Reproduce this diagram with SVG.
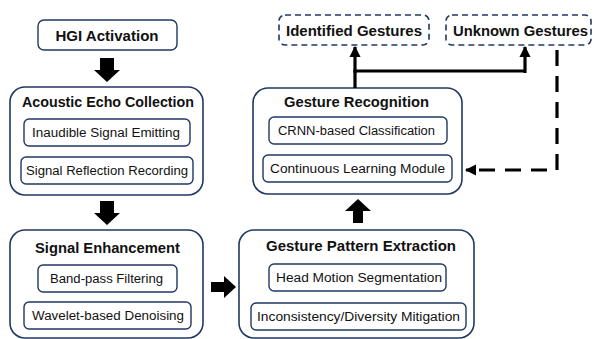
<svg xmlns="http://www.w3.org/2000/svg" width="594" height="339" viewBox="0 0 594 339">
  <style>
    .panel { fill: #ffffff; stroke: #203864; stroke-width: 1.6; }
    .item { fill: #ffffff; stroke: #203864; stroke-width: 1.4; }
    .out { fill: #ffffff; stroke: #203864; stroke-width: 1.6; stroke-dasharray: 6 4; }
    .title { font-family: "Liberation Sans", Arial, sans-serif; font-weight: bold; font-size: 15px; fill: #111111; text-anchor: middle; }
    .label { font-family: "Liberation Sans", Arial, sans-serif; font-size: 12.5px; fill: #111111; text-anchor: middle; }
    .block { fill: #000000; }
    .link { fill: none; stroke: #000000; stroke-width: 3.2; }
    .dash { fill: none; stroke: #000000; stroke-width: 3.2; stroke-dasharray: 16 10; }
  </style>
  <defs>
    <marker id="tip" viewBox="0 0 10 10" refX="9" refY="5" markerWidth="3.6" markerHeight="3.6" markerUnits="strokeWidth" orient="auto">
      <path d="M0,0 L10,5 L0,10 Z" fill="#000000"/>
    </marker>
  </defs>

  <rect width="594" height="339" fill="#ffffff"/>

  <g id="hgi-activation">
    <rect class="item" x="38" y="20" width="139" height="30" rx="6"/>
    <text class="title" x="107" y="41" textLength="103" lengthAdjust="spacingAndGlyphs">HGI Activation</text>
  </g>

  <g id="acoustic-echo-collection">
    <rect class="panel" x="10" y="87" width="193" height="108" rx="15"/>
    <text class="title" x="108" y="107" textLength="172" lengthAdjust="spacingAndGlyphs">Acoustic Echo Collection</text>
    <rect class="item" x="24" y="119" width="166" height="27" rx="5"/>
    <text class="label" x="106" y="137" textLength="148" lengthAdjust="spacingAndGlyphs">Inaudible Signal Emitting</text>
    <rect class="item" x="21" y="157" width="172" height="27" rx="5"/>
    <text class="label" x="107" y="175" textLength="162" lengthAdjust="spacingAndGlyphs">Signal Reflection Recording</text>
  </g>

  <g id="signal-enhancement">
    <rect class="panel" x="10" y="230" width="193" height="108" rx="15"/>
    <text class="title" x="107.5" y="253" textLength="145" lengthAdjust="spacingAndGlyphs">Signal Enhancement</text>
    <rect class="item" x="38" y="265" width="139" height="27" rx="5"/>
    <text class="label" x="106.5" y="283" textLength="113" lengthAdjust="spacingAndGlyphs">Band-pass Filtering</text>
    <rect class="item" x="24" y="302" width="167" height="27" rx="5"/>
    <text class="label" x="108" y="320" textLength="152" lengthAdjust="spacingAndGlyphs">Wavelet-based Denoising</text>
  </g>

  <g id="gesture-pattern-extraction">
    <rect class="panel" x="239" y="230" width="235" height="108" rx="15"/>
    <text class="title" x="361" y="251" textLength="190" lengthAdjust="spacingAndGlyphs">Gesture Pattern Extraction</text>
    <rect class="item" x="269" y="264" width="177" height="27" rx="5"/>
    <text class="label" x="359" y="282" textLength="166" lengthAdjust="spacingAndGlyphs">Head Motion Segmentation</text>
    <rect class="item" x="251" y="303" width="215" height="27" rx="5"/>
    <text class="label" x="358.5" y="321" textLength="203" lengthAdjust="spacingAndGlyphs">Inconsistency/Diversity Mitigation</text>
  </g>

  <g id="gesture-recognition">
    <rect class="panel" x="253" y="88" width="209" height="106" rx="15"/>
    <text class="title" x="356.5" y="107" textLength="145" lengthAdjust="spacingAndGlyphs">Gesture Recognition</text>
    <rect class="item" x="269" y="117" width="178" height="27" rx="5"/>
    <text class="label" x="356.5" y="135" textLength="157" lengthAdjust="spacingAndGlyphs">CRNN-based Classification</text>
    <rect class="item" x="263" y="155" width="189" height="27" rx="5"/>
    <text class="label" x="357.5" y="173" textLength="175" lengthAdjust="spacingAndGlyphs">Continuous Learning Module</text>
  </g>

  <g id="identified-gestures">
    <rect class="out" x="279" y="15" width="150" height="30" rx="6"/>
    <text class="title" x="354" y="36" textLength="136" lengthAdjust="spacingAndGlyphs">Identified Gestures</text>
  </g>

  <g id="unknown-gestures">
    <rect class="out" x="446" y="15" width="145" height="30" rx="6"/>
    <text class="title" x="520.5" y="36" textLength="135" lengthAdjust="spacingAndGlyphs">Unknown Gestures</text>
  </g>

  <g id="connectors">
    <!-- block arrows between stages -->
    <path class="block" d="M100,58 H114 V70 H120 L107,82 L94,70 H100 Z"/>
    <path class="block" d="M100,201 H114 V213 H120 L107,225 L94,213 H100 Z"/>
    <path class="block" d="M211,282 H224 V276 L236,287 L224,298 V292 H211 Z"/>
    <path class="block" d="M353,223 H363 V211 H371 L358,199 L345,211 H353 Z"/>
    <!-- recognition outputs -->
    <path class="link" d="M355,88 V71 H525"/>
    <path class="link" d="M355,73 V47" marker-end="url(#tip)"/>
    <path class="link" d="M525,73 V47" marker-end="url(#tip)"/>
    <!-- feedback of unknown gestures into continuous learning -->
    <path class="dash" d="M557,50 V170 H466" marker-end="url(#tip)"/>
  </g>
</svg>
